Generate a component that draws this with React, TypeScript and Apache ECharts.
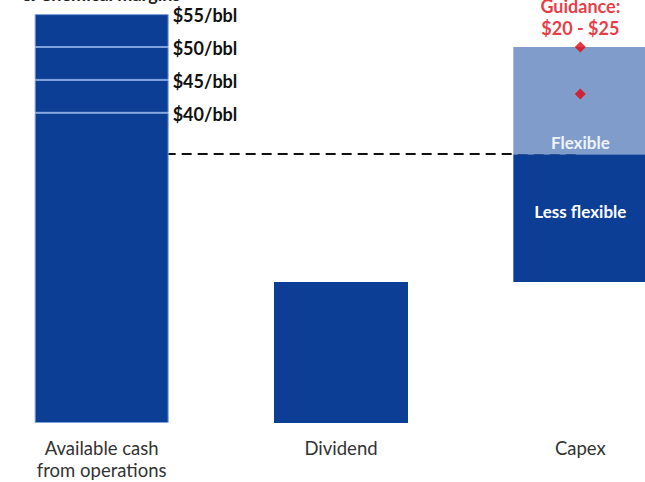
import React, { useEffect, useRef } from "react";
import * as echarts from "echarts";

const categories = ["Available cash\nfrom operations", "Dividend", "Capex"];
// Available cash stacked segments (base up to $40/bbl, then increments)
const cashSegments = [33, 3.5, 3.5, 3.5];
const cashLabels = ["$40/bbl", "$45/bbl", "$50/bbl", "$55/bbl"];
const dividend = 15;
const capexBase = 15;
const capexLessFlexible = 13.6;
const capexFlexible = 11.4;
const guidancePoints = [40, 35];
const guidanceText = "Guidance:\n$20 - $25";
const dashedLevel = 28.6;

const DARK = "#0c3e96";
const LIGHT = "#7f9ccb";
const RED = "#e30613";
const FONT = "Lato";

export default function App() {
  const ref = useRef<HTMLDivElement>(null);
  useEffect(() => {
    if (!ref.current) return;
    const chart = echarts.init(ref.current, null, { renderer: "svg" });
    const cashSeries = cashSegments.map((v, i) => ({
      type: "bar",
      stack: "cash",
      barWidth: 134,
      barGap: "-100%",
      z: 3,
      data: [v, "-", "-"],
      itemStyle: { color: DARK, borderColor: "#7fa2dd", borderWidth: 1 },
      label: {
        show: true,
        position: ["100%", 0],
        offset: [4, 1],
        align: "left",
        verticalAlign: "middle",
        formatter: cashLabels[i],
        fontFamily: FONT,
        fontWeight: "bold",
        fontSize: 18,
        color: "#111",
      },
    }));
    const option: any = {
      animation: false,
      grid: {
        left: -18,
        right: -55,
        top: 0,
        bottom: 59,
        containLabel: false,
        outerBoundsMode: "none",
      },
      xAxis: {
        type: "category",
        data: categories,
        axisLine: { show: false },
        axisTick: { show: false },
        axisLabel: {
          margin: 14,
          fontFamily: FONT,
          fontSize: 18.5,
          color: "#333",
          lineHeight: 22,
          interval: 0,
        },
      },
      yAxis: { type: "value", min: 0, max: 45, show: false, splitLine: { show: false } },
      graphic: [
        {
          type: "text",
          x: 22,
          y: 3,
          style: {
            text: "& Chemical margins",
            fontFamily: FONT,
            fontWeight: "bold",
            fontSize: 18,
            fill: "#222",
            verticalAlign: "bottom",
          },
        },
      ],
      series: [
        ...cashSeries,
        {
          type: "bar",
          stack: "other",
          barWidth: 134,
          barGap: "-100%",
          z: 3,
          data: ["-", dividend, "-"],
          itemStyle: { color: DARK },
        },
        {
          type: "bar",
          stack: "other",
          barWidth: 134,
          barGap: "-100%",
          z: 3,
          data: ["-", "-", capexBase],
          itemStyle: { color: "transparent" },
        },
        {
          type: "bar",
          stack: "other",
          barWidth: 134,
          barGap: "-100%",
          z: 3,
          data: ["-", "-", capexLessFlexible],
          itemStyle: { color: DARK },
          label: {
            show: true,
            position: "inside",
            offset: [0, -7],
            formatter: "Less flexible",
            fontFamily: FONT,
            fontWeight: "bold",
            fontSize: 17,
            color: "#fff",
          },
        },
        {
          type: "bar",
          stack: "other",
          barWidth: 134,
          barGap: "-100%",
          z: 3,
          data: ["-", "-", capexFlexible],
          itemStyle: { color: LIGHT },
          label: {
            show: true,
            position: "insideBottom",
            distance: 3,
            formatter: "Flexible",
            fontFamily: FONT,
            fontWeight: "bold",
            fontSize: 17,
            color: "#eef2fa",
          },
        },
        {
          type: "line",
          data: [],
          z: 1,
          markLine: {
            silent: true,
            symbol: "none",
            z: 1,
            label: { show: false },
            lineStyle: { color: "#111", type: [10, 6], width: 2 },
            data: [[{ coord: [0, dashedLevel] }, { coord: [2, dashedLevel] }]],
          },
        },
        {
          type: "scatter",
          symbol: "diamond",
          symbolSize: 11,
          z: 5,
          itemStyle: { color: RED },
          data: guidancePoints.map((v, i) => ({
            value: [2, v],
            label:
              i === 0
                ? {
                    show: true,
                    position: "top",
                    distance: 3,
                    formatter: guidanceText,
                    fontFamily: FONT,
                    fontWeight: "bold",
                    fontSize: 18,
                    lineHeight: 22,
                    color: RED,
                  }
                : { show: false },
          })),
        },
      ],
    };
    chart.setOption(option);
    return () => chart.dispose();
  }, []);
  return (
    <div
      ref={ref}
      style={{ position: "absolute", left: 0, top: 0, width: 645, height: 482 }}
    />
  );
}
